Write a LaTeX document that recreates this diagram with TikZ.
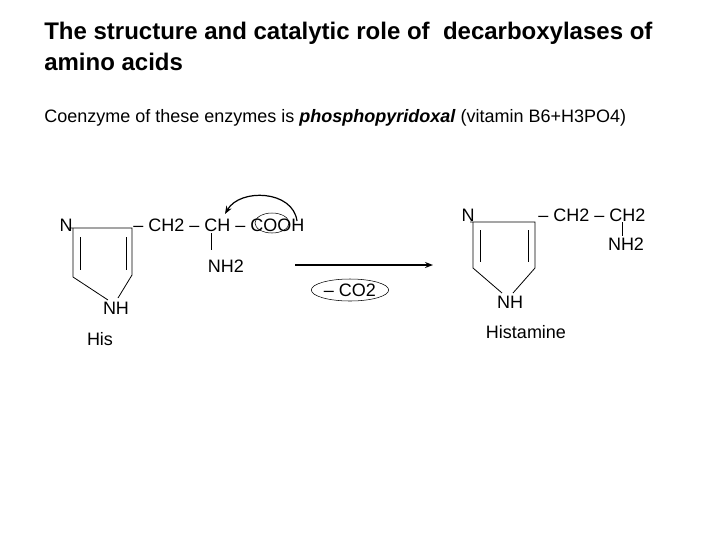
\documentclass[tikz,border=0pt]{standalone}
\usepackage{fontspec}
\setmainfont{Liberation Sans}
\usetikzlibrary{arrows.meta,shapes.geometric}
\begin{document}
\begin{tikzpicture}[x=0.75pt,y=-0.75pt,
  lbl/.style={inner sep=0pt,font=\fontsize{13.5}{15}\selectfont},
  bond/.style={line width=0.6pt}]
\useasboundingbox (0,0) rectangle (720,540);
\node[anchor=west,inner sep=0pt,font=\bfseries\fontsize{18}{21}\selectfont] (t1) at (44,33) {The structure and catalytic role of\ \ decarboxylases of};
\node[anchor=west,inner sep=0pt,font=\bfseries\fontsize{18}{21}\selectfont] (t2) at (44,62) {amino acids};
\node[anchor=west,inner sep=0pt,font=\fontsize{13.5}{15}\selectfont] (sub) at (44,118) {Coenzyme of these enzymes is \textbf{\itshape phosphopyridoxal} (vitamin B6+H3PO4)};
% left ring
\node[lbl] (n1) at (66,225) {N};
\node[lbl] (nh1) at (116,308) {NH};
\node[lbl] (his) at (100,339) {His};
\draw[bond] (69,228) -- (132,228) -- (132,275) -- (118,298);
\draw[bond] (73,228) -- (73,277) -- (108,300);
\draw[bond] (80,237) -- (80,270);
\draw[bond] (126,237) -- (126,270);
\node[lbl,anchor=west] (ch1) at (133,225) {-- CH2 -- CH -- COOH};
\draw[bond] (211,233) -- (211,250);
\node[lbl] (nh2a) at (226,266) {NH2};
\draw[line width=0.4pt] (272,223) ellipse (17 and 10);
\draw[line width=0.9pt,-{Stealth[length=6pt]}] (297,221) .. controls (293,190) and (240,188) .. (225,214);
% arrow
\coordinate (a1) at (295,265);
\coordinate (a2) at (433,265);
\draw[line width=1.2pt,-{Stealth[length=6pt]}] (a1) -- (a2);
\node[lbl,draw,ellipse,line width=0.4pt,minimum width=57pt,minimum height=16.5pt,inner sep=1pt] (co2) at (350,290) {-- CO2};
% right ring
\node[lbl] (n2) at (468,215) {N};
\node[lbl] (nh2r) at (510,302) {NH};
\node[lbl] (hm) at (526,332) {Histamine};
\draw[bond] (470,222) -- (535,222) -- (535,268) -- (513,293);
\draw[bond] (473,222) -- (473,268) -- (502,293);
\draw[bond] (480,230) -- (480,262);
\draw[bond] (528,230) -- (528,262);
\node[lbl,anchor=west] (ch2) at (538,215) {-- CH2 -- CH2};
\draw[bond] (622,222) -- (622,236);
\node[lbl] (nh2b) at (626,244) {NH2};
\end{tikzpicture}
\end{document}
